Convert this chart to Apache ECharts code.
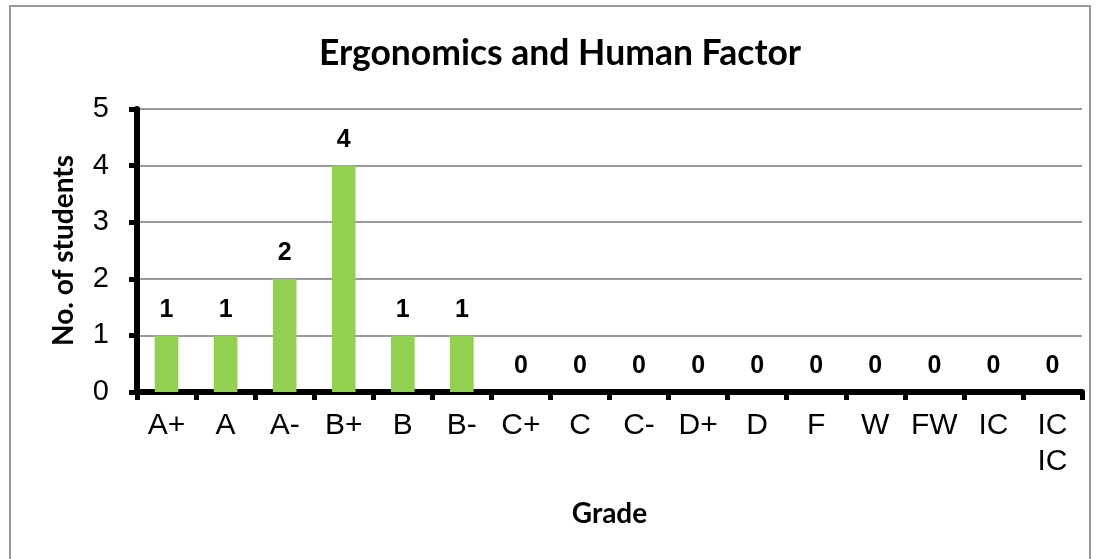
<!DOCTYPE html>
<html><head><meta charset="utf-8">
<script src="https://cdn.jsdelivr.net/npm/echarts@6/dist/echarts.min.js"></script>
<style>html,body{margin:0;padding:0;background:#fff}#c{width:1097px;height:559px}</style>
</head><body><div id="c"></div>
<script>
const categories = ['A+','A','A-','B+','B','B-','C+','C','C-','D+','D','F','W','FW','IC','IC\nIC'];
const students = [1,1,2,4,1,1,0,0,0,0,0,0,0,0,0,0];
const yTicks = {min:0, max:5, interval:1};
const titleText = 'Ergonomics and Human Factor';
const xName = 'Grade';
const yName = 'No. of students';

const chart = echarts.init(document.getElementById('c'), null, {renderer:'canvas'});
chart.setOption({
  animation:false,
  backgroundColor:'#fff',
  graphic:[
    {type:'rect', shape:{x:10,y:6,width:1080,height:560}, style:{fill:'none', stroke:'#999', lineWidth:2}, silent:true},
    {type:'text', x:560, y:54, style:{text:titleText, fontFamily:'Lato', fontWeight:'bold', fontSize:35.5, fill:'#000', align:'center', verticalAlign:'middle'}, silent:true}
  ],
  grid:{left:137, right:15, top:109, bottom:167, containLabel:false},
  xAxis:{type:'category', data:categories,
    name:xName, nameLocation:'middle', nameGap:108,
    nameTextStyle:{fontFamily:'Lato', fontWeight:'bold', fontSize:28, color:'#000'},
    axisLine:{lineStyle:{color:'#000', width:6}},
    axisTick:{show:true, length:8, lineStyle:{color:'#000', width:5}},
    axisLabel:{interval:0, fontFamily:'Liberation Sans', fontSize:30, color:'#000', margin:16, lineHeight:36, verticalAlign:'top'}
  },
  yAxis:{type:'value', min:yTicks.min, max:yTicks.max, interval:yTicks.interval,
    name:yName, nameLocation:'middle', nameGap:59,
    nameTextStyle:{fontFamily:'Lato', fontWeight:'bold', fontSize:28, color:'#000'},
    axisLine:{show:true, lineStyle:{color:'#000', width:6}},
    axisTick:{show:true, length:8, lineStyle:{color:'#000', width:5}},
    axisLabel:{fontFamily:'Liberation Sans', fontSize:29, color:'#000', margin:28},
    splitLine:{lineStyle:{color:'#999', width:2}}
  },
  series:[{type:'bar', data:students, barWidth:'40%',
    itemStyle:{color:'#92D050'},
    label:{show:true, position:'top', distance:13, fontFamily:'Liberation Sans', fontWeight:'bold', fontSize:25, color:'#000'}
  }]
});
</script></body></html>
